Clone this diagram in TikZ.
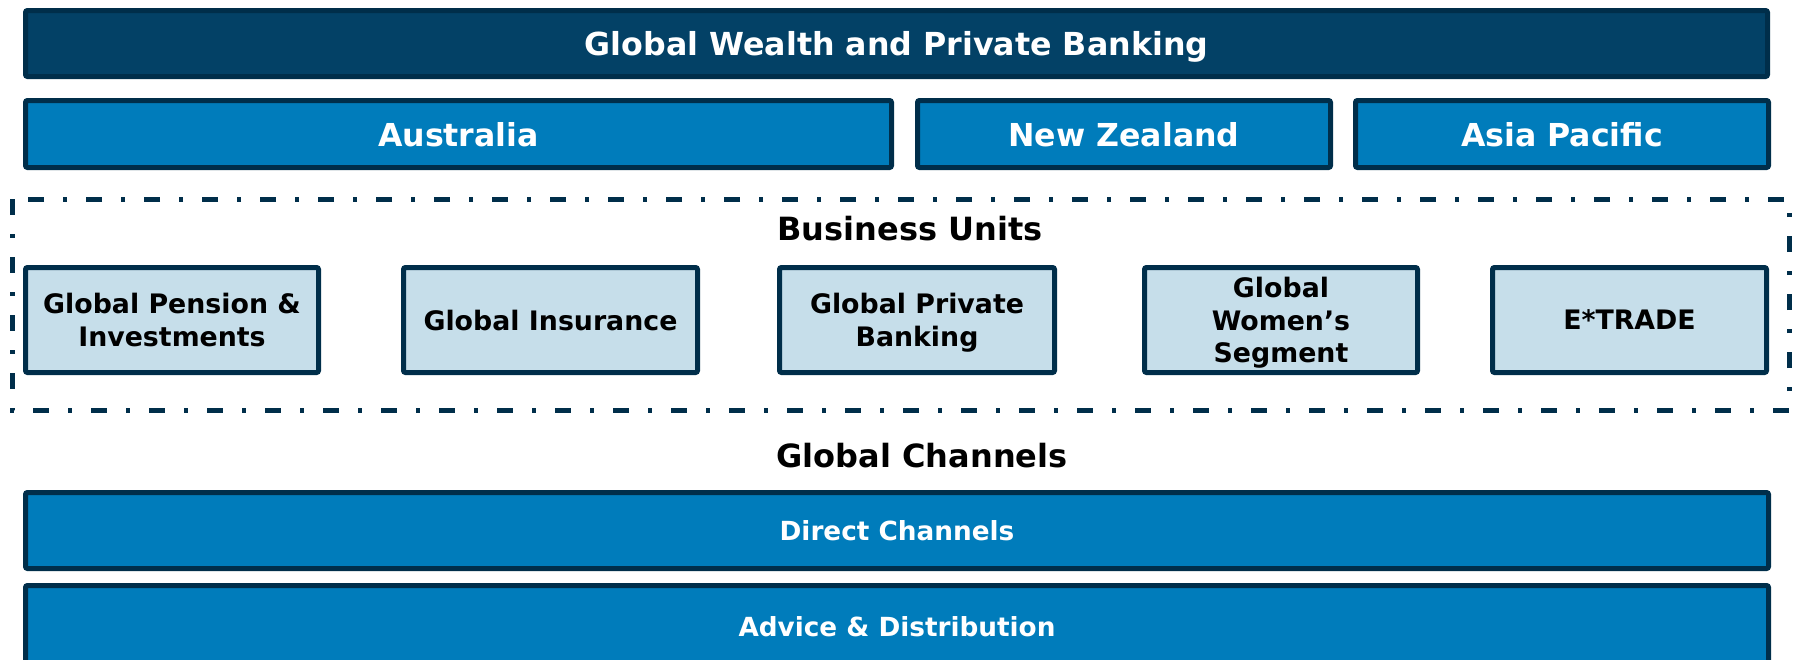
\documentclass[tikz,border=0pt]{standalone}
\usepackage{fontspec}
\setmainfont{DejaVu Sans}
\definecolor{navyfill}{HTML}{034166}
\definecolor{navyline}{HTML}{002E4A}
\definecolor{midblue}{HTML}{007CBB}
\definecolor{lightblue}{HTML}{C6DEEA}
\tikzset{
  bar/.style={draw=navyline, line width=5pt, rounded corners=2pt, inner sep=0pt, align=center, text depth=0pt, font=\bfseries},
  topbar/.style={bar, fill=navyfill, text=white, font=\bfseries\fontsize{31.7}{38}\selectfont},
  region/.style={bar, fill=midblue, text=white, font=\bfseries\fontsize{31.6}{38}\selectfont, minimum height=67pt},
  unit/.style={bar, fill=lightblue, text=black, font=\bfseries\fontsize{26.8}{32.8}\selectfont, minimum height=105pt},
  channel/.style={bar, fill=midblue, text=white, font=\bfseries\fontsize{26.3}{32}\selectfont, minimum width=1743pt},
  heading/.style={inner sep=0pt, font=\bfseries\fontsize{32}{38}\selectfont, text=black},
  groupbox/.style={draw=navyline, line width=5pt, dash pattern=on 16pt off 19pt on 4pt off 19pt}
}
\begin{document}
\begin{tikzpicture}[x=1pt,y=-1pt]
\useasboundingbox (0,0) rectangle (1798,659);
\clip (0,0) rectangle (1798,659);
\node[topbar, minimum width=1742pt, minimum height=66pt] (gwpb) at (896.5,43.5) {Global Wealth and Private Banking};
\node[region, minimum width=866pt] (aus) at (458.5,134) {Australia};
\node[region, minimum width=413pt] (nz) at (1124,134) {New Zealand};
\node[region, minimum width=413pt] (ap) at (1562,134) {Asia Pacific};
\draw[groupbox] (12,199) rectangle (1789,410);
\node[heading] (bu) at (910,229) {Business Units};
\node[unit, minimum width=293pt] (u1) at (172,320) {Global Pension \&\\Investments};
\node[unit, minimum width=294pt] (u2) at (550.5,320) {Global Insurance};
\node[unit, minimum width=275pt] (u3) at (917,320) {Global Private\\Banking};
\node[unit, minimum width=273pt] (u4) at (1281,320) {Global\\Women’s\\Segment};
\node[unit, minimum width=274pt] (u5) at (1629.5,320) {E*TRADE};
\node[heading] (gc) at (922,456) {Global Channels};
\node[channel, minimum height=76pt] (dc) at (897,530.5) {Direct Channels};
\node[channel, minimum height=81pt] (ad) at (897,626) {Advice \& Distribution};
\end{tikzpicture}
\end{document}
